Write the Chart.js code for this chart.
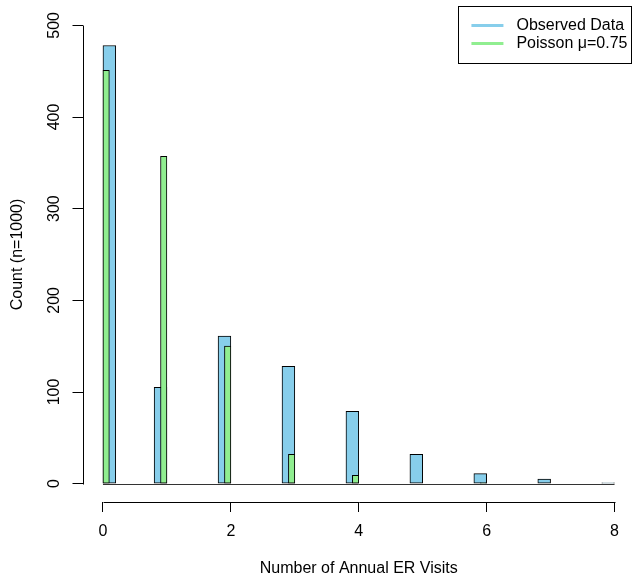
<!DOCTYPE html>
<html>
<head>
<meta charset="utf-8">
<script src="https://cdn.jsdelivr.net/npm/chart.js@4.4.1/dist/chart.umd.min.js"></script>
<style>
html,body{margin:0;padding:0;background:#fff;}
#wrap{width:635px;height:577px;position:relative;}
</style>
</head>
<body>
<div id="wrap"><canvas id="c"></canvas></div>
<script>
// ---- data ----
const visits = [0, 1, 2, 3, 4, 5, 6, 7, 8];
const observedCounts = [478, 105, 161, 128, 79, 32, 11, 5, 1];
const poissonCounts = [451, 357, 150, 32, 9, 0, 1, 0, 0];
const observedBinWidth = 0.2;   // histogram breaks of the observed data
const poissonBinWidth = 0.1;    // histogram breaks of the Poisson sample
const xTicks = [0, 2, 4, 6, 8];
const yTicks = [0, 100, 200, 300, 400, 500];
const seriesLabels = ['Observed Data', 'Poisson \u03bc=0.75'];
const xTitle = 'Number of Annual ER Visits';
const yTitle = 'Count (n=1000)';

// R-style histogram bins (right-closed, lowest included)
function binTable(counts, width) {
  const n = Math.round(visits[visits.length - 1] / width);
  const rows = [];
  for (let i = 0; i < n; i++) rows.push({ x: +((i + 0.5) * width).toFixed(3), y: 0 });
  counts.forEach((c, idx) => {
    const v = visits[idx];
    const k = v === 0 ? 0 : Math.round(v / width) - 1;
    rows[k].y = c;
  });
  return rows;
}

const FONT = 'Liberation Sans, Arial, Helvetica, sans-serif';
const FS = 16;
const BLUE = '#87CEEB';
const GREEN = '#90EE90';

const xMin = visits[0] - 0.04 * (visits[visits.length - 1] - visits[0]);
const xMax = visits[visits.length - 1] + 0.04 * (visits[visits.length - 1] - visits[0]);
const yMin = yTicks[0] - 0.04 * (yTicks[yTicks.length - 1] - yTicks[0]);
const yMax = yTicks[yTicks.length - 1] + 0.04 * (yTicks[yTicks.length - 1] - yTicks[0]);

const rAxes = {
  id: 'rAxes',
  afterDraw(chart) {
    const ctx = chart.ctx;
    const xs = chart.scales.x, ys = chart.scales.y;
    const ca = chart.chartArea;
    ctx.save();
    ctx.strokeStyle = '#000';
    ctx.lineWidth = 1;
    // y axis line from first to last tick
    const ax = Math.round(ca.left) + 0.5;
    ctx.beginPath();
    ctx.moveTo(ax, Math.round(ys.getPixelForValue(yTicks[0])) + 0.5);
    ctx.lineTo(ax, Math.round(ys.getPixelForValue(yTicks[yTicks.length - 1])) + 0.5);
    ctx.stroke();
    // x axis line from first to last tick
    const ay = Math.round(ca.bottom) + 0.5;
    ctx.beginPath();
    ctx.moveTo(Math.round(xs.getPixelForValue(xTicks[0])) + 0.5, ay);
    ctx.lineTo(Math.round(xs.getPixelForValue(xTicks[xTicks.length - 1])) + 0.5, ay);
    ctx.stroke();
    // baseline of empty histogram bins
    const by = Math.round(ys.getPixelForValue(0)) + 0.5;
    ctx.strokeStyle = '#333';
    ctx.beginPath();
    ctx.moveTo(xs.getPixelForValue(visits[0]), by);
    ctx.lineTo(xs.getPixelForValue(visits[visits.length - 1]), by);
    ctx.stroke();

    // legend (R style, top right)
    ctx.font = FS + 'px ' + FONT;
    const widths = seriesLabels.map(t => ctx.measureText(t).width);
    const maxW = Math.max(...widths);
    const boxRight = Math.round(ca.right) - 3.5;
    const boxTop = Math.round(ca.top) - 0.5;
    const textX = boxRight - 4 - maxW;
    const boxLeft = Math.round(textX - 58) + 0.5;
    const rowH = 18;
    const firstY = boxTop + 19;
    const colors = [BLUE, GREEN];
    ctx.strokeStyle = '#000';
    ctx.lineWidth = 1;
    ctx.strokeRect(boxLeft, boxTop, boxRight - boxLeft, 57);
    ctx.textBaseline = 'middle';
    ctx.textAlign = 'left';
    seriesLabels.forEach((t, i) => {
      const y = firstY + i * rowH;
      ctx.strokeStyle = colors[i];
      ctx.lineWidth = 3;
      ctx.beginPath();
      ctx.moveTo(textX - 45, y);
      ctx.lineTo(textX - 13, y);
      ctx.stroke();
      ctx.fillStyle = '#000';
      ctx.fillText(t, textX, y);
    });
    ctx.restore();
  }
};

const tickFont = { family: FONT, size: FS };

new Chart(document.getElementById('c'), {
  type: 'bar',
  data: {
    datasets: [
      {
        label: seriesLabels[1],
        data: binTable(poissonCounts, poissonBinWidth),
        xAxisID: 'x2',
        backgroundColor: GREEN,
        borderColor: '#000',
        borderWidth: 1,
        borderSkipped: false,
        barPercentage: 1,
        categoryPercentage: 1,
        grouped: false,
        order: 1
      },
      {
        label: seriesLabels[0],
        data: binTable(observedCounts, observedBinWidth),
        xAxisID: 'x',
        backgroundColor: BLUE,
        borderColor: '#000',
        borderWidth: 1,
        borderSkipped: false,
        barPercentage: 1,
        categoryPercentage: 1,
        grouped: false,
        order: 2
      }
    ]
  },
  options: {
    responsive: true,
    maintainAspectRatio: false,
    animation: false,
    devicePixelRatio: 1,
    layout: { padding: { top: 7, right: 0, left: 0, bottom: 0 } },
    plugins: { legend: { display: false }, tooltip: { enabled: false } },
    scales: {
      x: {
        type: 'linear',
        position: 'bottom',
        min: xMin, max: xMax,
        offset: false,
        border: { display: false },
        grid: { display: true, offset: false, drawOnChartArea: false, drawTicks: true, tickLength: 10, color: '#000', lineWidth: 1 },
        ticks: { font: tickFont, color: '#000', padding: 10, autoSkip: false, maxRotation: 0, minRotation: 0 },
        afterBuildTicks: s => { s.ticks = xTicks.map(v => ({ value: v })); },
        afterFit: s => { s.height = 75; s.paddingLeft = 0; s.paddingRight = 0; },
        title: { display: true, text: xTitle, font: { family: FONT, size: FS, lineHeight: 1 }, color: '#000', padding: { top: 0, bottom: 0 } }
      },
      x2: {
        type: 'linear',
        display: false,
        min: xMin, max: xMax,
        offset: false,
        grid: { offset: false }
      },
      y: {
        type: 'linear',
        min: yMin, max: yMax,
        border: { display: false },
        grid: { display: true, drawOnChartArea: false, drawTicks: true, tickLength: 10, color: '#000', lineWidth: 1 },
        ticks: { font: tickFont, color: '#000', padding: 5, minRotation: 90, maxRotation: 90, crossAlign: 'center' },
        afterBuildTicks: s => { s.ticks = yTicks.map(v => ({ value: v })); },
        afterFit: s => { s.width = 82.5; s.paddingTop = 0; s.paddingBottom = 0; },
        title: { display: true, text: yTitle, font: { family: FONT, size: FS, lineHeight: 1 }, color: '#000', padding: { top: 9.5, bottom: 0 } }
      }
    }
  },
  plugins: [rAxes]
});
</script>
</body>
</html>
